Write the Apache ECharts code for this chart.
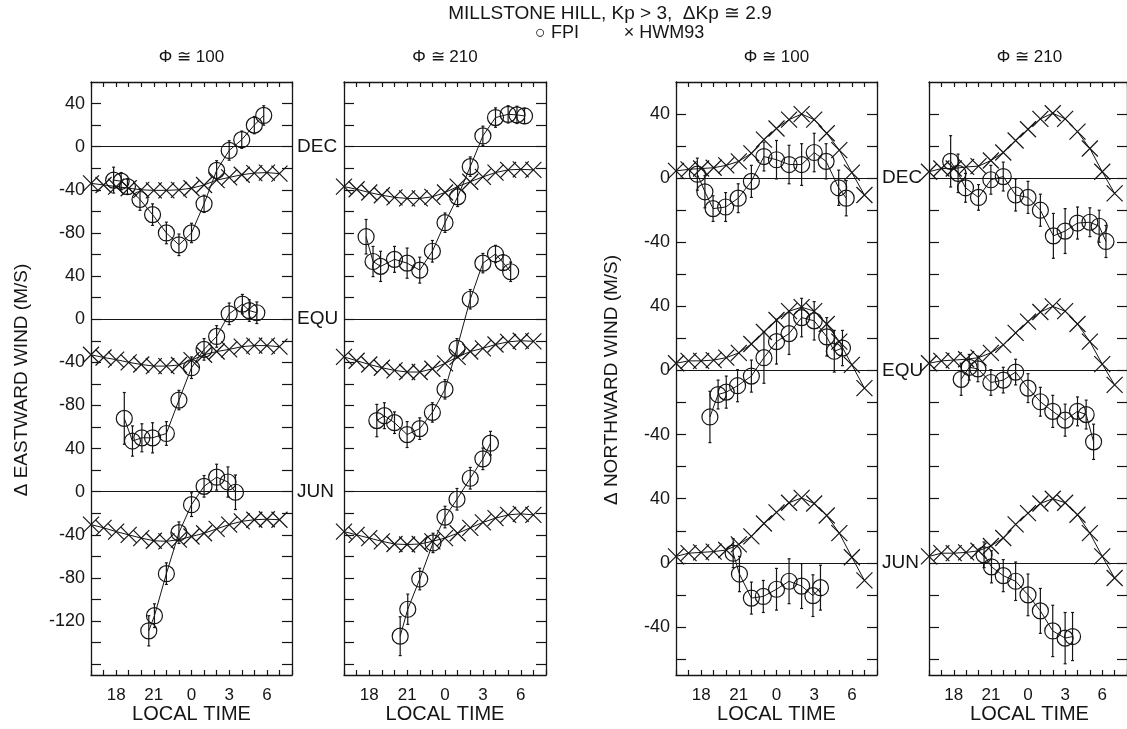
<!DOCTYPE html>
<html><head><meta charset="utf-8">
<script src="https://cdn.jsdelivr.net/npm/echarts@6/dist/echarts.min.js"></script>
<style>html,body{margin:0;padding:0;background:#fff}#c{width:1127px;height:729px}</style>
</head><body><div id="c"></div><script>
// ---------- data ----------
const hwmHours = [16,17,18,19,20,21,22,23,24,25,26,27,28,29,30,31];
const seasons = ['DEC','EQU','JUN'];
const eastOffsets = [320,160,0];
const northOffsets = [240,120,0];
const eastTickLabelValues = [360,320,280,240,200,160,120,80,40,0,-40,-80,-120];
const eastTickLabelTexts = ['40','0','-40','-80','40','0','-40','-80','40','0','-40','-80','-120'];
const northTickLabelValues = [280,240,200,160,120,80,40,0,-40];
const northTickLabelTexts = ['40','0','-40','40','0','-40','40','0','-40'];
const hourLabelValues = [18,21,24,27,30];
const hourLabelTexts = ['18','21','0','3','6'];
const panelTitles = ['Φ ≅ 100','Φ ≅ 210','Φ ≅ 100','Φ ≅ 210'];
const mainTitle = 'MILLSTONE HILL, Kp > 3,  ΔKp ≅ 2.9';
const legendFpi = '○ FPI';
const legendHwm = '× HWM93';

// Eastward, Phi ~ 100
const e100DecHours = [17.8,18.4,18.9,19.9,20.9,22.0,23.0,24.0,25.0,26.0,27.0,28.0,29.0,29.75];
const e100DecFpi   = [-31,-32,-37,-49,-63,-80,-91,-80,-53,-22,-3.5,6.5,20,29];
const e100DecErr   = [12,8,7,10,10,10,10,9,8,9,9,8,8,9];
const e100DecHwm   = [-34,-35.5,-37,-38.5,-40,-40.5,-40.5,-40,-38.5,-35.5,-31,-28.5,-26,-24.5,-24,-25];
const e100EquHours = [18.65,19.3,20.05,20.9,22.0,23.0,24.0,25.0,26.0,27.0,28.05,28.6,29.2];
const e100EquFpi   = [-92,-113,-110,-110,-106,-75,-45,-28,-16,5,14,8,6];
const e100EquErr   = [24,14,13,14,11,9,10,10,10,10,9,10,10];
const e100EquHwm   = [-33,-35.5,-37.5,-40,-42,-43.5,-43.5,-42.5,-38,-33,-30,-28,-25.5,-24.5,-24.5,-25.5];
const e100JunHours = [20.6,21.05,22.0,23.0,24.0,25.0,26.0,26.9,27.5];
const e100JunFpi   = [-129,-115,-76,-38,-12,5,13.5,9,-0.5];
const e100JunErr   = [14,11,10,10,11,10,12,14,16];
const e100JunHwm   = [-30.5,-33.5,-37,-40,-43,-45.5,-46,-44.5,-41.5,-38.5,-34.5,-30.5,-27.5,-26,-25.5,-26];
// Eastward, Phi ~ 210
const e210DecHours = [17.75,18.3,18.9,20.0,21.0,22.0,23.0,24.0,25.0,26.0,27.0,28.0,29.0,29.7,30.3];
const e210DecFpi   = [-83.5,-106.5,-111,-104.5,-108,-114.5,-97,-70.5,-46.5,-18.5,10,27,30,29.5,28.5];
const e210DecErr   = [16,14,14,12,14,12,10,9,9,9,9,9,8,8,7];
const e210DecHwm   = [-37,-39.5,-42.5,-45,-47,-48,-48,-46.5,-42.5,-37,-32.5,-28,-24,-21.5,-21,-21.5];
const e210EquHours = [18.6,19.2,20.0,21.0,22.0,23.0,24.0,24.95,26.0,27.0,28.0,28.6,29.2];
const e210EquFpi   = [-94,-89.5,-96,-107,-101.5,-86.5,-65,-27,18.5,52,60.5,52.5,44];
const e210EquErr   = [15,12,10,12,10,9,9,9,9,9,8,7,9];
const e210EquHwm   = [-35,-38.5,-42,-45,-47.5,-49,-49,-46,-41,-35,-30,-27,-23.5,-21,-20,-20.5];
const e210JunHours = [20.45,21.05,22.0,23.05,24.0,24.95,26.0,27.0,27.6];
const e210JunFpi   = [-134,-109,-81,-47.5,-23.5,-7,12.5,30.5,45];
const e210JunErr   = [18,14,10,9,10,10,10,10,11];
const e210JunHwm   = [-37,-40,-43,-46,-48.5,-49,-48.5,-46,-43,-38.5,-33.5,-28.5,-24.5,-21.5,-20.5,-21.5];
// Northward, Phi ~ 100
const n100DecHours = [17.7,18.3,18.95,19.95,20.95,22.0,23.0,24.0,25.0,26.0,27.0,27.95,28.95,29.55];
const n100DecFpi   = [2.5,-8.5,-19,-18,-12.5,-2,13.5,11.5,8.5,8.5,16,10.5,-6,-12.5];
const n100DecErr   = [10,10,8,9,9,10,9,12,12,13,12,11,11,11];
const n100DecHwm   = [4.5,5.5,6,6.5,8,10.5,15.5,24,31,36.5,40,36.5,28,17.5,3.5,-10.5];
const n100EquHours = [18.7,19.35,20.0,20.9,22.0,23.0,24.0,25.0,26.0,27.0,28.0,28.6,29.25];
const n100EquFpi   = [-29,-15,-13.5,-9.5,-3.5,8,18,23,33,31,21,12,14];
const n100EquErr   = [16,9,10,10,10,16,14,13,12,12,12,13,11];
const n100EquHwm   = [4.5,6,6,6.5,8,11,16.5,24,31.5,37,39.5,37,29,18,3.5,-11];
const n100JunHours = [20.55,21.05,22.0,22.95,24.0,25.0,26.0,26.9,27.5];
const n100JunFpi   = [6,-7,-22,-21,-16.5,-11.5,-14.5,-20.5,-15.5];
const n100JunErr   = [9,11,10,10,13,14,14,13,14];
const n100JunHwm   = [4,6,6.5,7,8,11.5,16.5,24.5,31.5,37.5,40.5,37,29.5,18.5,3.5,-11];
// Northward, Phi ~ 210
const n210DecHours = [17.75,18.35,18.95,20.0,21.0,22.0,23.0,24.0,25.0,26.05,27.0,28.0,29.0,29.75,30.3];
const n210DecFpi   = [10.5,3,-6,-12,-1,1,-10.5,-12,-20,-36,-33,-28,-27.5,-30,-39.5];
const n210DecErr   = [16,12,9,8,9,9,10,10,10,14,14,10,9,10,10];
const n210DecHwm   = [4,6,6,7,7.5,11,16,23.5,30.5,37,40.5,37,29,18.5,4,-9.5];
const n210EquHours = [18.6,19.25,19.95,21.0,22.0,23.0,24.0,25.0,26.0,27.0,28.0,28.7,29.3];
const n210EquFpi   = [-5.5,2,1,-7.5,-6,-1,-11,-19.5,-25.5,-31,-25.5,-27.5,-44.5];
const n210EquErr   = [10,8,8,8,8,8,9,9,10,10,9,9,11];
const n210EquHwm   = [4.5,6,6.5,7,8,11,16,23.5,30.5,36.5,40,37,29,18,4,-9];
const n210JunHours = [20.45,21.05,22.0,23.0,24.0,25.0,26.0,27.0,27.6];
const n210JunFpi   = [5,-2.5,-8,-11.5,-20,-30,-42.5,-47,-46];
const n210JunErr   = [8,10,10,12,13,14,16,16,15];
const n210JunHwm   = [4,6,6,6.5,7.5,10.5,15.5,24,31,37,40,37.5,30,18.5,4,-9.5];

// ---------- layout / styles ----------
const FONT = 'Liberation Sans, Arial, Helvetica, sans-serif';
const INK = '#151515';
const panels = [
  {left:91,  width:201, kind:'east',  labels:true,
   sets:[[e100DecHours,e100DecFpi,e100DecErr,e100DecHwm],[e100EquHours,e100EquFpi,e100EquErr,e100EquHwm],[e100JunHours,e100JunFpi,e100JunErr,e100JunHwm]]},
  {left:344, width:202, kind:'east',  labels:false,
   sets:[[e210DecHours,e210DecFpi,e210DecErr,e210DecHwm],[e210EquHours,e210EquFpi,e210EquErr,e210EquHwm],[e210JunHours,e210JunFpi,e210JunErr,e210JunHwm]]},
  {left:676, width:201, kind:'north', labels:true,
   sets:[[n100DecHours,n100DecFpi,n100DecErr,n100DecHwm],[n100EquHours,n100EquFpi,n100EquErr,n100EquHwm],[n100JunHours,n100JunFpi,n100JunErr,n100JunHwm]]},
  {left:929, width:201, kind:'north', labels:false,
   sets:[[n210DecHours,n210DecFpi,n210DecErr,n210DecHwm],[n210EquHours,n210EquFpi,n210EquErr,n210EquHwm],[n210JunHours,n210JunFpi,n210JunErr,n210JunHwm]]}
];
const TOP = 82, HEIGHT = 593;

function range(a,b,s){const r=[];for(let v=a;v<=b+1e-9;v+=s)r.push(v);return r;}
const eastTicks = range(-160,360,20);
const northTicks = range(-60,280,20);

const grid=[], xAxis=[], yAxis=[], series=[];
const axisLineStyle = {show:true, onZero:false, lineStyle:{color:INK,width:1.3}};
const X_SYMBOL = 'path://M0,0L10,10M0,10L10,0';

panels.forEach((p,i)=>{
  grid.push({left:p.left, top:TOP, width:p.width, height:HEIGHT, containLabel:false});
  const east = p.kind==='east';
  const offs = east ? eastOffsets : northOffsets;
  const ymin = east ? -170 : -70, ymax = east ? 380 : 300;
  const tickVals = east ? eastTicks : northTicks;
  const lblVals = east ? eastTickLabelValues : northTickLabelValues;
  const lblTexts = east ? eastTickLabelTexts : northTickLabelTexts;
  xAxis.push({type:'value', gridIndex:i, position:'bottom', min:16, max:32, interval:1,
    axisLine:axisLineStyle, splitLine:{show:false},
    axisTick:{show:true, inside:true, length:5, lineStyle:{color:INK,width:1.2}},
    axisLabel:{show:true, customValues:hourLabelValues, margin:12, color:INK, fontSize:17, fontFamily:FONT,
      formatter:(v)=>hourLabelTexts[hourLabelValues.indexOf(v)]}});
  xAxis.push({type:'value', gridIndex:i, position:'top', min:16, max:32, interval:1,
    axisLine:axisLineStyle, splitLine:{show:false},
    axisTick:{show:true, inside:true, length:5, lineStyle:{color:INK,width:1.2}},
    axisLabel:{show:false}});
  yAxis.push({type:'value', gridIndex:i, position:'left', min:ymin, max:ymax,
    axisLine:axisLineStyle, splitLine:{show:false},
    axisTick:{show:true, inside:true, length:10, customValues:tickVals, lineStyle:{color:INK,width:1.2}},
    axisLabel:{show:p.labels, customValues:lblVals, margin:6, color:INK, fontSize:18, fontFamily:FONT,
      formatter:(v)=>lblTexts[lblVals.indexOf(v)]}});
  yAxis.push({type:'value', gridIndex:i, position:'right', min:ymin, max:ymax,
    axisLine:axisLineStyle, splitLine:{show:false},
    axisTick:{show:true, inside:true, length:10, customValues:tickVals, lineStyle:{color:INK,width:1.2}},
    axisLabel:{show:false}});

  p.sets.forEach((set,s)=>{
    const [hrs,fpi,err,hwm] = set;
    const off = offs[s];
    const hwmSeries = {
      type:'line', name:'HWM93', xAxisIndex:2*i, yAxisIndex:2*i,
      data: hwmHours.map((h,k)=>[h, hwm[k]+off]),
      symbol:X_SYMBOL, symbolSize:16, showSymbol:true,
      lineStyle:{color:INK,width:1}, itemStyle:{color:'none',borderColor:INK,borderWidth:1.2},
      animation:false, silent:true, z:3
    };
    if(s===0){
      hwmSeries.markLine = {
        silent:true, animation:false, symbol:['none','none'],
        lineStyle:{type:'solid', color:INK, width:1.2},
        label:{show:p.labels, position:'end', distance:5, color:INK, fontSize:19, fontFamily:FONT},
        data: seasons.map((nm,k)=>({yAxis:offs[k], label:{formatter:nm}}))
      };
    }
    series.push(hwmSeries);
    series.push({
      type:'line', name:'FPI', xAxisIndex:2*i, yAxisIndex:2*i,
      data: hrs.map((h,k)=>[h, fpi[k]+off]),
      symbol:'circle', symbolSize:16, showSymbol:true,
      lineStyle:{color:INK,width:1}, itemStyle:{color:'rgba(0,0,0,0)',borderColor:INK,borderWidth:1.2},
      animation:false, silent:true, z:4
    });
    series.push({
      type:'custom', name:'FPI err', xAxisIndex:2*i, yAxisIndex:2*i,
      data: hrs.map((h,k)=>[h, fpi[k]-err[k]+off, fpi[k]+err[k]+off]),
      encode:{x:0, y:[1,2]}, animation:false, silent:true, z:5,
      renderItem:(params, api)=>{
        const x=api.value(0), lo=api.value(1), hi=api.value(2);
        const a=api.coord([x,lo]), b=api.coord([x,hi]); const c=1.5;
        const st={stroke:INK, lineWidth:1.2};
        return {type:'group', children:[
          {type:'line', shape:{x1:a[0],y1:a[1],x2:b[0],y2:b[1]}, style:st},
          {type:'line', shape:{x1:a[0]-c,y1:a[1],x2:a[0]+c,y2:a[1]}, style:st},
          {type:'line', shape:{x1:b[0]-c,y1:b[1],x2:b[0]+c,y2:b[1]}, style:st}
        ]};
      }
    });
  });
});

const textStyle = (t,size)=>({text:t, fill:INK, font:size+'px '+FONT, align:'center', verticalAlign:'middle', textAlign:'center', textVerticalAlign:'middle'});
const graphic = [
  {type:'text', x:610, y:14, style:textStyle(mainTitle,19)},
  {type:'text', x:557, y:33, style:textStyle(legendFpi,18)},
  {type:'text', x:664, y:33, style:textStyle(legendHwm,18)},
  {type:'text', x:22, y:380, rotation:Math.PI/2, style:textStyle('Δ EASTWARD WIND (M/S)',19)},
  {type:'text', x:612, y:380, rotation:Math.PI/2, style:textStyle('Δ NORTHWARD WIND (M/S)',19)}
];
panels.forEach((p,i)=>{
  graphic.push({type:'text', x:p.left+p.width/2, y:57, style:textStyle(panelTitles[i],17)});
  graphic.push({type:'text', x:p.left+p.width/2, y:714, style:textStyle('LOCAL TIME',20)});
});

const chart = echarts.init(document.getElementById('c'), null, {renderer:'canvas'});
chart.setOption({backgroundColor:'#fff', animation:false, grid, xAxis, yAxis, series, graphic});
</script></body></html>
